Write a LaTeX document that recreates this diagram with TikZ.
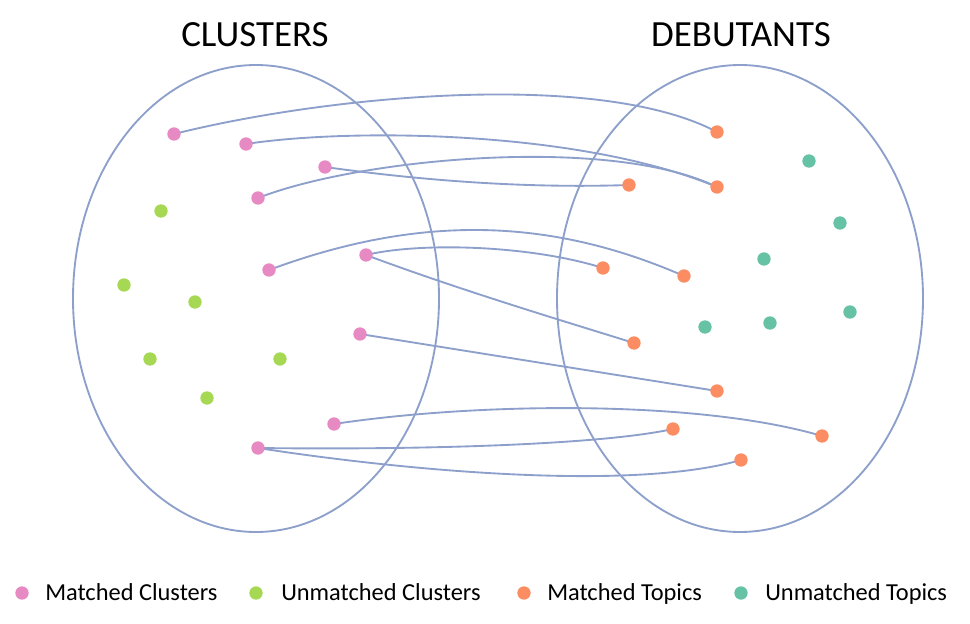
\documentclass[tikz,border=0pt]{standalone}
\usepackage{fontspec}
\setmainfont{Carlito}
\usetikzlibrary{shapes.geometric}
\definecolor{pinkc}{HTML}{E78AC3}
\definecolor{greenc}{HTML}{A6D854}
\definecolor{orangec}{HTML}{FC8D62}
\definecolor{tealc}{HTML}{66C2A5}
\definecolor{linec}{HTML}{8DA0CB}
\begin{document}
\begin{tikzpicture}[x=0.75pt,y=-0.75pt,
  ring/.style={draw=linec,line width=1.4pt,ellipse,inner sep=0pt,minimum width=274.5pt,minimum height=350.25pt},
  link/.style={draw=linec,line width=1.4pt},
  dot/.style={circle,inner sep=0pt,minimum size=10pt},
  mc/.style={dot,fill=pinkc},
  uc/.style={dot,fill=greenc},
  mt/.style={dot,fill=orangec},
  ut/.style={dot,fill=tealc},
  title/.style={font=\fontsize{27.7}{32}\selectfont,anchor=base,inner sep=0pt},
  legtext/.style={font=\fontsize{18.3}{22}\selectfont,anchor=base west,inner sep=0pt}]
\useasboundingbox (0,0) rectangle (970,624);
% titles
\node[title] (tcl) at (255,47) {CLUSTERS};
\node[title] (tdb) at (741,47) {DEBUTANTS};
% ellipses
\node[ring] (eL) at (256,298.5) {};
\node[ring] (eR) at (740,298.5) {};
% coordinates of dots
\coordinate (P1) at (174,134);
\coordinate (P2) at (246,144);
\coordinate (P3) at (325,167);
\coordinate (P4) at (258,198);
\coordinate (P5) at (269,270);
\coordinate (P6) at (366,255);
\coordinate (P7) at (360,334);
\coordinate (P8) at (334,424);
\coordinate (P9) at (258,448);
\coordinate (O1) at (717,132);
\coordinate (O2) at (717,187);
\coordinate (O3) at (629,185);
\coordinate (O4) at (603,268);
\coordinate (O5) at (684,276);
\coordinate (O6) at (634,343);
\coordinate (O7) at (717,391);
\coordinate (O8) at (673,429);
\coordinate (O9) at (822,436);
\coordinate (O10) at (741,460);
% connectors
\draw[link] (P1) .. controls (330,95) and (600,70) .. (O1);
\draw[link] (P2) .. controls (350,128) and (580,130) .. (O2);
\draw[link] (P3) .. controls (440,183) and (540,188) .. (O3);
\draw[link] (P4) .. controls (360,158) and (610,135) .. (O2);
\draw[link] (P5) .. controls (430,210) and (560,222) .. (O5);
\draw[link] (P6) .. controls (420,242) and (530,245) .. (O4);
\draw[link] (P6) .. controls (460,290) and (560,320) .. (O6);
\draw[link] (P7) -- (O7);
\draw[link] (P8) .. controls (480,402) and (700,400) .. (O9);
\draw[link] (P9) .. controls (420,450) and (600,445) .. (O8);
\draw[link] (P9) .. controls (400,470) and (630,492) .. (O10);
% dots
\foreach \n in {P1,P2,P3,P4,P5,P6,P7,P8,P9} \node[mc] (d\n) at (\n) {};
\foreach \n in {O1,O2,O3,O4,O5,O6,O7,O8,O9,O10} \node[mt] (d\n) at (\n) {};
\node[uc] (G1) at (161,211) {};
\node[uc] (G2) at (124,285) {};
\node[uc] (G3) at (195,302) {};
\node[uc] (G4) at (150,359) {};
\node[uc] (G5) at (280,359) {};
\node[uc] (G6) at (207,398) {};
\node[ut] (T1) at (809,161) {};
\node[ut] (T2) at (840,223) {};
\node[ut] (T3) at (764,259) {};
\node[ut] (T4) at (705,327) {};
\node[ut] (T5) at (770,323) {};
\node[ut] (T6) at (850,312) {};
% legend
\node[mc] (l1) at (22,593) {};
\node[legtext] (l1t) at (45,600) {Matched Clusters};
\node[uc] (l2) at (256,593) {};
\node[legtext] (l2t) at (281,600) {Unmatched Clusters};
\node[mt] (l3) at (524,593) {};
\node[legtext] (l3t) at (547,600) {Matched Topics};
\node[ut] (l4) at (741,593) {};
\node[legtext] (l4t) at (765,600) {Unmatched Topics};
\end{tikzpicture}
\end{document}
